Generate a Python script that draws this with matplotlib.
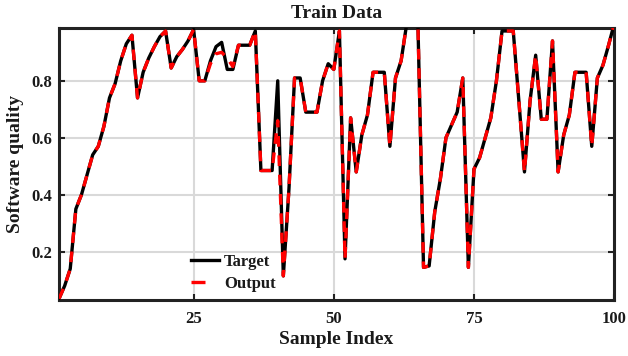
import matplotlib
matplotlib.use("Agg")
import matplotlib.pyplot as plt
from matplotlib.lines import Line2D

# sample index and software quality values
sample_index = list(range(1, 101))

target = [
    0.035, 0.08, 0.14, 0.35, 0.40, 0.47, 0.54, 0.57, 0.64, 0.74,
    0.79, 0.87, 0.93, 0.96, 0.74, 0.83, 0.88, 0.92, 0.955, 0.975,
    0.845, 0.885, 0.91, 0.94, 0.98, 0.80, 0.80, 0.87, 0.92, 0.935,
    0.84, 0.84, 0.925, 0.925, 0.925, 0.975, 0.485, 0.485, 0.485, 0.80,
    0.115, 0.42, 0.81, 0.81, 0.69, 0.69, 0.69, 0.80, 0.86, 0.84,
    0.975, 0.175, 0.67, 0.48, 0.61, 0.68, 0.83, 0.83, 0.83, 0.57,
    0.81, 0.87, 1.0, 1.0, 1.0, 0.145, 0.15, 0.34, 0.455, 0.60,
    0.645, 0.69, 0.81, 0.145, 0.49, 0.53, 0.60, 0.67, 0.80, 0.975,
    0.975, 0.975, 0.73, 0.48, 0.73, 0.89, 0.665, 0.665, 0.94, 0.48,
    0.61, 0.68, 0.83, 0.83, 0.83, 0.57, 0.81, 0.855, 0.925, 1.0,
]

output = list(target)
# points where the model output departs from the target
output[27] = 0.86
output[28] = 0.895
output[29] = 0.90
output[30] = 0.88
output[31] = 0.85
output[39] = 0.66

x_ticks = [25, 50, 75, 100]
y_ticks = [0.2, 0.4, 0.6, 0.8]

plt.rcParams["font.family"] = ["Liberation Serif", "DejaVu Serif"]
plt.rcParams["font.weight"] = "bold"
text_color = "#1a1a1a"

fig = plt.figure(figsize=(6.28, 3.56), dpi=100)
ax = fig.add_axes([0.094, 0.157, 0.884, 0.764])

ax.plot(sample_index, target, color="black", lw=2.4, label="Target", zorder=3)
ax.plot(sample_index, output, color="red", lw=2.4, dashes=(3.2, 2.6),
        label="Output", zorder=4)

ax.set_xlim(1, 100)
ax.set_ylim(0.03, 0.985)
ax.set_xticks(x_ticks)
ax.set_yticks(y_ticks)
ax.set_yticklabels([f"{v:.1f}" for v in y_ticks])

ax.grid(True, color="#d9d9d9", lw=1.5)
ax.set_axisbelow(True)
for spine in ax.spines.values():
    spine.set_linewidth(2.2)
    spine.set_color("#222222")
ax.tick_params(direction="in", top=True, right=True, length=4, width=1.5,
               labelsize=12, colors="#222222", labelcolor=text_color, pad=5)
ax.tick_params(axis="x", pad=8)

ax.set_title("Train Data", fontsize=14, fontweight="bold", color=text_color, pad=7)
ax.set_xlabel("Sample Index", fontsize=14, fontweight="bold", color=text_color, labelpad=3)
ax.set_ylabel("Software quality", fontsize=14, fontweight="bold", color=text_color, labelpad=5)

# legend handles: solid line and a single short dash
handles = [
    Line2D([], [], color="black", lw=2.4),
    Line2D([], [], color="red", lw=2.4, dashes=(4.2, 8)),
]
leg = ax.legend(handles, ["Target", "Output"], loc="lower left",
                bbox_to_anchor=(0.21, -0.025), frameon=False, fontsize=12,
                handlelength=1.7, handletextpad=0.3, labelspacing=0.35)
for t in leg.get_texts():
    t.set_color(text_color)

fig.savefig("out.png", dpi=100)
